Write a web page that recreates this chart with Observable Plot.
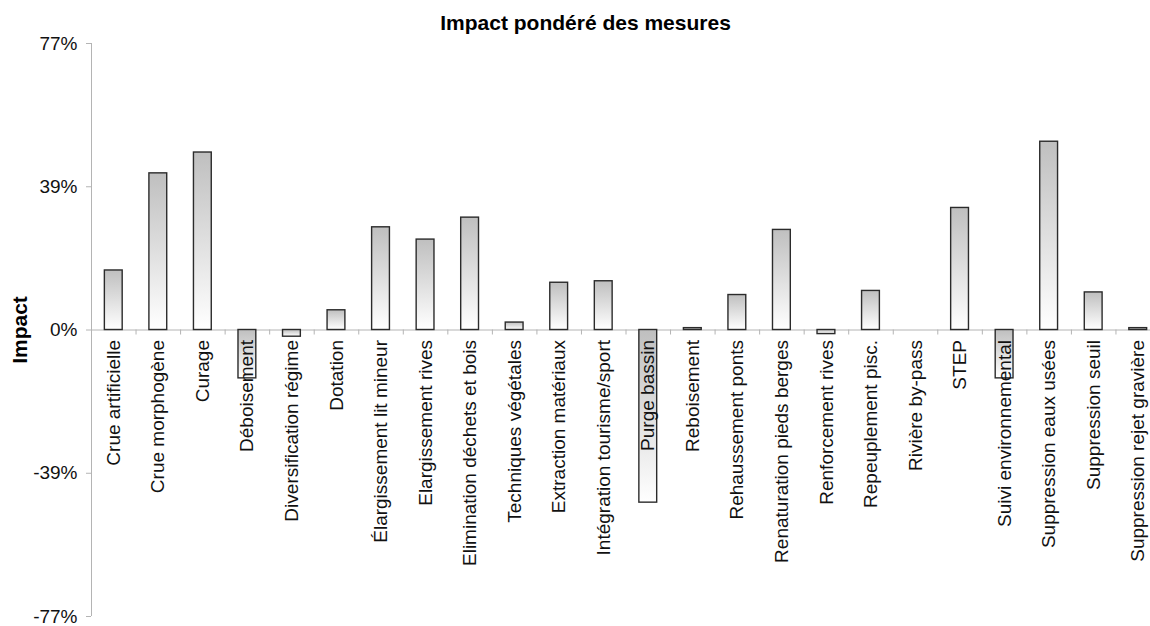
<!DOCTYPE html>
<html><head><meta charset="utf-8">
<script src="https://cdn.jsdelivr.net/npm/d3@7"></script>
<script src="https://cdn.jsdelivr.net/npm/@observablehq/plot@0.6"></script>
<style>
html,body{margin:0;padding:0;overflow:hidden;background:#fff;}
#chart svg{max-width:none !important;display:block;}
</style></head><body><div id="chart"></div>
<script>
const categories = ["Crue artificielle","Crue morphogène","Curage","Déboisement","Diversification régime","Dotation","Élargissement lit mineur","Elargissement rives","Elimination déchets et bois","Techniques végétales","Extraction matériaux","Intégration tourisme/sport","Purge bassin","Reboisement","Rehaussement ponts","Renaturation pieds berges","Renforcement rives","Repeuplement pisc.","Rivière by-pass","STEP","Suivi environnemental","Suppression eaux usées","Suppression seuil","Suppression rejet gravière"];
const values = [0.160,0.421,0.477,-0.130,-0.018,0.053,0.276,0.243,0.302,0.020,0.127,0.131,-0.464,0.005,0.094,0.269,-0.011,0.105,0,0.328,-0.130,0.506,0.101,0.005];
const yDomain = [-0.77,0.77];
const yTicks = [-0.77,-0.385,0,0.385,0.77];
const yTickLabels = ["-77%","-39%","0%","39%","77%"];
const title = "Impact pondéré des mesures";
const yLabel = "Impact";

const rows = categories.map((c,i)=>({cat:c, val:values[i]}));
const W=1160, H=626, ML=91, MR=0, MT=43, MB=10;
const step = (W-ML-MR)/categories.length;
const gray = "#b4b4b4";

const plot = Plot.plot({
  width: W, height: H, marginLeft: ML, marginRight: MR, marginTop: MT, marginBottom: MB,
  style: {fontFamily: "'Liberation Sans', Arial, sans-serif", background: "white", color: "#000"},
  x: {domain: categories, paddingInner: 0.6, paddingOuter: 0.3, round: false, axis: null},
  y: {domain: yDomain},
  marks: [
    Plot.ruleX([categories[0]], {dx: -step/2, stroke: gray}),
    Plot.ruleY([0], {stroke: gray}),
    Plot.ruleX(categories, {x: d=>d, y1: ()=>0, y2: ()=>0, dx: -step/2, insetBottom: -5, stroke: gray}),
    Plot.axisY({ticks: yTicks, tickFormat: d => yTickLabels[yTicks.indexOf(d)], tickSize: 5, tickPadding: 9, fontSize: 19, stroke: gray, fill: "#111", label: null}),
    Plot.barY(rows, {x: "cat", y: "val", fill: "url(#barGrad)", stroke: "#2b2b2b", strokeWidth: 1.4}),
    Plot.text(categories, {x: d=>d, y: ()=>0, text: d=>d, rotate: -90, textAnchor: "end", lineAnchor: "middle", dy: 10, fontSize: 19, fill: "#111"}),
    Plot.text([yLabel], {frameAnchor: "left", rotate: -90, textAnchor: "middle", lineAnchor: "middle", dx: -71.5, fontSize: 21, fontWeight: "bold", fill: "#000"}),
    Plot.text([title], {frameAnchor: "top", textAnchor: "middle", lineAnchor: "middle", dx: -40.5, dy: -20.4, fontSize: 21, fontWeight: "bold", fill: "#000"})
  ]
});

d3.select(plot).insert("defs", ":first-child").html(
  '<linearGradient id="barGrad" x1="0" y1="0" x2="0" y2="1">' +
  '<stop offset="0" stop-color="#bfbfbf"/><stop offset="1" stop-color="#ffffff"/></linearGradient>'
);
document.getElementById("chart").appendChild(plot);
</script></body></html>
